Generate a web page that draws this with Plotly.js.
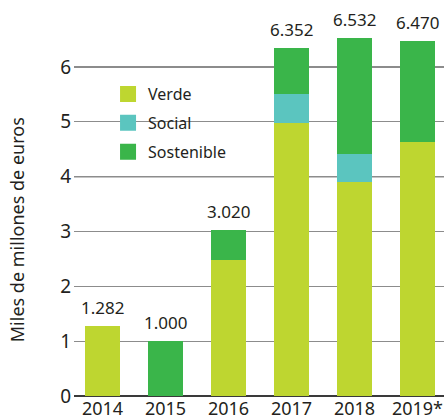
<!DOCTYPE html>
<html>
<head>
<meta charset="utf-8">
<script src="https://cdn.plot.ly/plotly-3.0.1.min.js"></script>
<style>html,body{margin:0;padding:0;background:#fff;}#chart{width:444px;height:420px;}</style>
</head>
<body>
<div id="chart"></div>
<script>
const years = ['2014', '2015', '2016', '2017', '2018', '2019*'];
const verde = [1.282, 0, 2.48, 4.98, 3.91, 4.63];
const social = [0, 0, 0, 0.53, 0.51, 0];
const sostenible = [0, 1.000, 0.54, 0.842, 2.112, 1.84];
const totals = [1.282, 1.000, 3.020, 6.352, 6.532, 6.470];
const totalLabels = ['1.282', '1.000', '3.020', '6.352', '6.532', '6.470'];
const seriesNames = ['Verde', 'Social', 'Sostenible'];
const yTicks = [0, 1, 2, 3, 4, 5, 6];

const colors = ['#BED630', '#5BC5BF', '#3AB54A'];
const FONT = 'Noto Sans, Open Sans, sans-serif';
const TXT = '#231f20';

const seriesData = [verde, social, sostenible];
const traces = [];
seriesData.forEach((vals, i) => {
  traces.push({
    type: 'bar', x: years, y: vals, name: seriesNames[i],
    marker: {color: colors[i]}, showlegend: false, hoverinfo: 'skip'
  });
});
seriesData.forEach((vals, i) => {
  traces.push({
    type: 'scatter', mode: 'markers', x: [null], y: [null], name: seriesNames[i],
    marker: {symbol: 'square', size: 20, color: colors[i]},
    legendgroup: 'g' + i, showlegend: true
  });
});

// category axis: annotation x given as the category's index on the axis
const labelAnnotations = years.map((yr, i) => ({
  x: i, y: totals[i], xref: 'x', yref: 'y', text: totalLabels[i],
  showarrow: false, yanchor: 'bottom', yshift: 5,
  font: {family: FONT, size: 17, color: TXT}
}));

const layout = {
  width: 444, height: 420,
  margin: {l: 74, r: 0, t: 20, b: 24},
  paper_bgcolor: '#fff', plot_bgcolor: '#fff',
  barmode: 'stack', bargap: 0.444,
  font: {family: FONT, color: TXT},
  xaxis: {
    type: 'category', range: [-0.452, 5.421],
    showgrid: false, ticks: '', showline: false,
    tickfont: {family: FONT, size: 18, color: TXT}
  },
  yaxis: {
    range: [0, 6.857], tickvals: yTicks, ticktext: yTicks.map(String),
    showgrid: true, gridcolor: '#8c8c8c', gridwidth: 1.3,
    zeroline: true, zerolinecolor: '#3a3a3a', zerolinewidth: 1.5,
    ticks: '', showline: false, ticklabelstandoff: 2,
    tickfont: {family: FONT, size: 19, color: TXT}
  },
  showlegend: true,
  legend: {
    x: 0.092, y: 0.848, xanchor: 'left', yanchor: 'top',
    bgcolor: 'rgba(0,0,0,0)', traceorder: 'grouped', tracegroupgap: 5,
    font: {family: FONT, size: 16, color: TXT}
  },
  shapes: [
    {type: 'rect', xref: 'paper', yref: 'y', x0: 0.092, x1: 0.330, y0: 4.85, y1: 5.15,
     fillcolor: '#fff', line: {width: 0}, layer: 'between'},
    {type: 'line', xref: 'paper', yref: 'y', x0: 0, x1: 1, y0: 4, y1: 4,
     line: {color: '#1a1a1a', width: 1.3}, layer: 'between'}
  ],
  annotations: [{
    text: 'Miles de millones de euros', xref: 'paper', yref: 'paper',
    x: -0.154, y: 0.441, xanchor: 'center', yanchor: 'middle', textangle: -90, showarrow: false,
    font: {family: FONT, size: 18, color: TXT}
  }].concat(labelAnnotations)
};

Plotly.newPlot('chart', traces, layout, {staticPlot: true, displayModeBar: false});
</script>
</body>
</html>
